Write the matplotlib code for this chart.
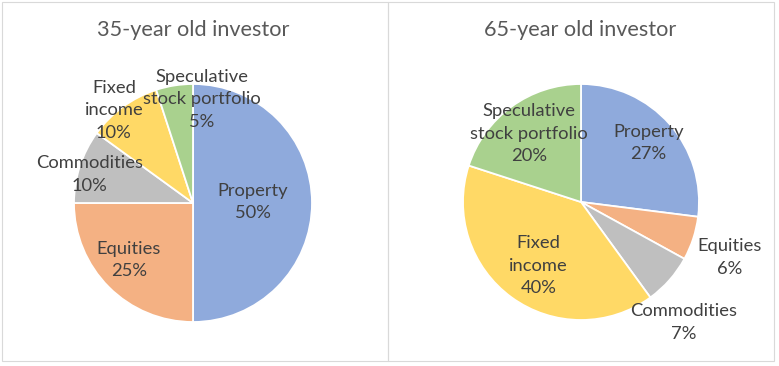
import matplotlib.pyplot as plt
from matplotlib.patches import Rectangle

# -------------------------------
# Dane
# -------------------------------
categories = ["Property", "Equities", "Commodities", "Fixed\nincome", "Speculative\nstock portfolio"]
shares_35 = [50, 25, 10, 10, 5]
shares_65 = [27, 6, 7, 40, 20]
titles = ["35-year old investor", "65-year old investor"]

colors = ["#8FAADC", "#F4B183", "#BFBFBF", "#FFD966", "#A9D18E"]

# pozycje etykiet w jednostkach promienia (tylko układ)
label_xy_35 = [(0.50, 0.01), (-0.54, -0.48), (-0.87, 0.24), (-0.665, 0.78), (0.075, 0.87)]
label_xy_65 = [(0.57, 0.50), (1.26, -0.47), (0.87, -1.02), (-0.36, -0.54), (-0.44, 0.58)]

W, H = 779, 366
plt.rcParams['font.family'] = ['Lato', 'DejaVu Sans']

fig = plt.figure(figsize=(W / 100, H / 100), dpi=100)

# ramki paneli (piksele od lewego górnego rogu)
panels = [(2, 2, 386, 359), (388, 2, 386, 359)]
for px, py, pw, ph in panels:
    fig.patches.append(Rectangle((px / W, 1 - (py + ph) / H), pw / W, ph / H,
                                 transform=fig.transFigure, fill=False,
                                 edgecolor="#D9D9D9", linewidth=0.8))

# środki i promienie kół w pikselach
pies = [((193, 203), 119, shares_35, label_xy_35),
        ((581, 202), 118, shares_65, label_xy_65)]

for (cx, cy), r, vals, lxy in pies:
    S = 340
    ax = fig.add_axes([(cx - S / 2) / W, 1 - (cy + S / 2) / H, S / W, S / H])
    lim = S / 2 / r
    ax.pie(vals, colors=colors, startangle=90, counterclock=False, radius=1,
           wedgeprops=dict(edgecolor="white", linewidth=1.3))
    for (lx, ly), cat, v in zip(lxy, categories, vals):
        ax.text(lx, ly, f"{cat}\n{v}%", ha="center", va="center",
                fontsize=13.2, color="#404040", linespacing=1.5)
    ax.set_xlim(-lim, lim)
    ax.set_ylim(-lim, lim)
    ax.set_aspect("equal")
    ax.axis("off")

fig.text(193 / W, 1 - 30 / H, titles[0], ha="center", va="center", fontsize=15.6, color="#595959")
fig.text(580 / W, 1 - 30 / H, titles[1], ha="center", va="center", fontsize=15.6, color="#595959")

fig.savefig("out.png", dpi=100)
